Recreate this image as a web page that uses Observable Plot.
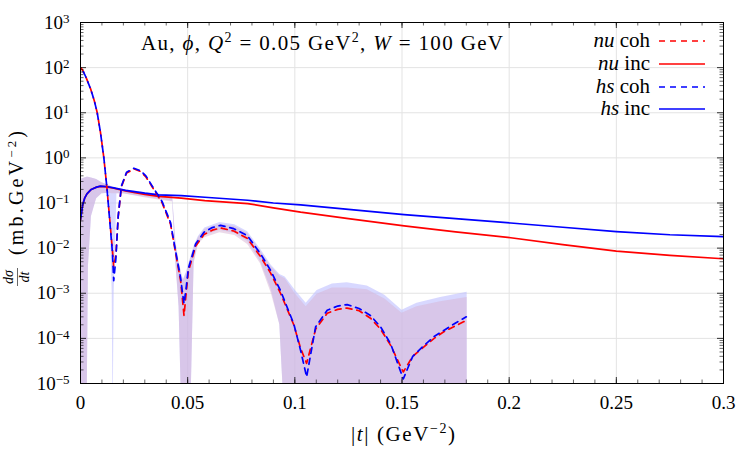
<!DOCTYPE html>
<html><head><meta charset="utf-8">
<script src="https://cdn.jsdelivr.net/npm/d3@7"></script>
<script src="https://cdn.jsdelivr.net/npm/@observablehq/plot@0.6"></script>
<style>body{margin:0;background:#fff}#chart{width:750px;height:450px}
#chart svg text{font-family:'Liberation Serif',serif}</style>
</head><body><div id="chart"></div>
<script>
// ---- coherent cross sections (shared |t| grid) ----
const tCoh = [0, 0.001, 0.0025, 0.0047, 0.0065, 0.0078, 0.0093, 0.0109, 0.0124, 0.0137,
  0.0149, 0.0155, 0.0165, 0.0176, 0.0191, 0.0215, 0.0249, 0.028, 0.0305, 0.0334,
  0.0381, 0.042, 0.0443, 0.0467, 0.0475, 0.0483, 0.0492, 0.0503, 0.0537, 0.0576,
  0.0615, 0.0653, 0.0715, 0.0778, 0.084, 0.0887, 0.0933, 0.0995, 0.1027, 0.1055,
  0.1097, 0.1151, 0.12, 0.1244, 0.13, 0.1353, 0.14, 0.1447, 0.1506, 0.155,
  0.1602, 0.165, 0.1695, 0.175, 0.18];
const hsCoh = [100, 88, 62, 34, 18, 10, 3.7, 1.0, 0.2, 0.037,
  0.008, 0.0019, 0.0058, 0.052, 0.24, 0.48, 0.59, 0.52, 0.4, 0.24,
  0.107, 0.037, 0.0089, 0.0022, 0.0011, 0.00059, 0.0012, 0.0035, 0.0124, 0.0225,
  0.0285, 0.032, 0.027, 0.019, 0.0075, 0.0032, 0.00115, 0.00021, 0.000054, 0.000014,
  0.00018, 0.00042, 0.00052, 0.00056, 0.00046, 0.00032, 0.00018, 0.000076, 0.0000126, 0.00004,
  0.000069, 0.00011, 0.00015, 0.00022, 0.0003];
const nuCoh = [100, 88, 62, 34, 18, 10, 3.7, 1.0, 0.2, 0.04,
  0.009, 0.0038, 0.007, 0.05, 0.23, 0.46, 0.57, 0.5, 0.38, 0.23,
  0.1, 0.034, 0.0082, 0.0019, 0.0008, 0.00032, 0.0009, 0.003, 0.011, 0.02,
  0.025, 0.028, 0.024, 0.0165, 0.0065, 0.0028, 0.001, 0.0002, 0.00006, 0.000028,
  0.00016, 0.00036, 0.00044, 0.00047, 0.00041, 0.00028, 0.00016, 0.00007, 0.000018, 0.00004,
  0.000065, 0.0001, 0.00014, 0.00019, 0.00025];

// ---- incoherent cross sections ----
const tInc = [0, 0.001, 0.002, 0.003, 0.005, 0.0075, 0.0093, 0.012, 0.015, 0.021,
  0.03, 0.0365, 0.047, 0.058, 0.078, 0.09, 0.1027, 0.125, 0.151, 0.175,
  0.2007, 0.225, 0.25, 0.275, 0.3];
const hsInc = [0.042, 0.09, 0.13, 0.16, 0.2, 0.225, 0.236, 0.232, 0.22, 0.19,
  0.165, 0.152, 0.146, 0.134, 0.115, 0.1, 0.091, 0.072, 0.055, 0.045,
  0.036, 0.029, 0.0233, 0.0198, 0.018];
const nuInc = [0.042, 0.09, 0.13, 0.16, 0.2, 0.225, 0.234, 0.228, 0.215, 0.185,
  0.155, 0.14, 0.128, 0.113, 0.097, 0.078, 0.0625, 0.045, 0.031, 0.023,
  0.017, 0.012, 0.0086, 0.0069, 0.0058];

// ---- uncertainty bands ----
const tBand = [0, 0.002, 0.003, 0.0037, 0.0051, 0.0075, 0.01, 0.0135, 0.0148, 0.0152,
  0.0157, 0.017, 0.02, 0.03, 0.04, 0.043, 0.0445, 0.046, 0.0474, 0.048,
  0.0495, 0.0513, 0.053, 0.055, 0.058, 0.065, 0.072, 0.078, 0.084, 0.089,
  0.093, 0.0955, 0.1, 0.1053, 0.1104, 0.1175, 0.1244, 0.1338, 0.142, 0.15,
  0.157, 0.168, 0.1804];
const hsHi = [0.33, 0.36, 0.37, 0.37, 0.36, 0.33, 0.28, 0.24, 0.225, 0.22,
  0.215, 0.21, 0.2, 0.17, 0.15, 0.14, 0.014, 0.005, 0.0025, 0.002,
  0.003, 0.006, 0.011, 0.018, 0.028, 0.037, 0.033, 0.023, 0.0095, 0.0042,
  0.0026, 0.0023, 0.0012, 0.0006, 0.00115, 0.0016, 0.0017, 0.00145, 0.0009, 0.00042,
  0.0006, 0.0008, 0.00105];
const hsLo = [1e-6, 1e-6, 1e-6, 0.004, 0.05, 0.125, 0.16, 0.165, 0.001, 1e-6,
  0.001, 0.16, 0.16, 0.135, 0.115, 0.11, 0.005, 0.0005, 1e-6, 1e-6,
  1e-6, 1e-6, 0.005, 0.013, 0.019, 0.025, 0.021, 0.014, 0.005, 0.0012,
  0.0002, 1e-6, 1e-6, 1e-6, 1e-6, 1e-6, 1e-6, 1e-6, 1e-6, 1e-6,
  1e-6, 1e-6, 1e-6];
const nuHi = [0.33, 0.36, 0.37, 0.37, 0.36, 0.33, 0.28, 0.24, 0.225, 0.22,
  0.215, 0.21, 0.2, 0.165, 0.145, 0.135, 0.013, 0.0047, 0.0024, 0.0019,
  0.0028, 0.0055, 0.01, 0.017, 0.026, 0.034, 0.03, 0.021, 0.0085, 0.0038,
  0.0024, 0.0021, 0.001, 0.0005, 0.00095, 0.0013, 0.0013, 0.0012, 0.00075, 0.00036,
  0.0005, 0.00065, 0.0008];
const nuLo = [1e-6, 1e-6, 1e-6, 0.004, 0.05, 0.125, 0.16, 0.165, 0.16, 0.16,
  0.16, 0.16, 0.16, 0.13, 0.11, 0.105, 0.0045, 0.0005, 1e-6, 1e-6,
  1e-6, 1e-6, 0.0045, 0.012, 0.017, 0.022, 0.019, 0.012, 0.0045, 0.001,
  0.0002, 1e-6, 1e-6, 1e-6, 1e-6, 1e-6, 1e-6, 1e-6, 1e-6, 1e-6,
  1e-6, 1e-6, 1e-6];

// ---- axes ----
const xTicks = [0, 0.05, 0.1, 0.15, 0.2, 0.25, 0.3];
const xMinor = d3.range(0, 31).map(i => i / 100);
const yExp = [-5, -4, -3, -2, -1, 0, 1, 2, 3];
const yTicks = yExp.map(e => Math.pow(10, e));
const yMinor = [];
for (let e = -5; e < 3; e++) for (let m = 2; m <= 9; m++) yMinor.push(m * Math.pow(10, e));

const legendItems = [
  {name: "nu", kind: "coh", color: "#ff0000", dash: true},
  {name: "nu", kind: "inc", color: "#ff0000", dash: false},
  {name: "hs", kind: "coh", color: "#0000ff", dash: true},
  {name: "hs", kind: "inc", color: "#0000ff", dash: false}
];

const FONT = "'Liberation Serif', serif";
const W = 750, H = 450, mL = 80, mR = 27, mT = 22, mB = 67;
const pw = W - mL - mR, ph = H - mT - mB;

const pts = (ts, vs) => ts.map((t, i) => ({t, v: vs[i]}));
const band = (lo, hi) => tBand.map((t, i) => ({t, lo: lo[i], hi: hi[i]}));

const plot = Plot.plot({
  width: W, height: H,
  marginLeft: mL, marginRight: mR, marginTop: mT, marginBottom: mB,
  style: {fontFamily: FONT, fontSize: "19px", background: "white", color: "black"},
  x: {domain: [0, 0.3]},
  y: {type: "log", domain: [1e-5, 1e3]},
  marks: [
    Plot.ruleX(xTicks, {x: d => d, stroke: "#e3e3e3", strokeWidth: 1}),
    Plot.ruleY(yTicks, {y: d => d, stroke: "#e3e3e3", strokeWidth: 1}),
    Plot.areaY(band(hsLo, hsHi), {x: "t", y1: "lo", y2: "hi", fill: "rgb(190,190,255)", fillOpacity: 0.6, clip: true}),
    Plot.areaY(band(nuLo, nuHi), {x: "t", y1: "lo", y2: "hi", fill: "rgb(216,180,212)", fillOpacity: 0.5, clip: true}),
    Plot.line(pts(tInc, nuInc), {x: "t", y: "v", stroke: "#ff0000", strokeWidth: 1.7, clip: true}),
    Plot.line(pts(tInc, hsInc), {x: "t", y: "v", stroke: "#0000ff", strokeWidth: 1.7, clip: true}),
    Plot.line(pts(tCoh, nuCoh), {x: "t", y: "v", stroke: "#ff0000", strokeWidth: 1.7, strokeDasharray: "6,5", clip: true}),
    Plot.line(pts(tCoh, hsCoh), {x: "t", y: "v", stroke: "#0000ff", strokeWidth: 1.7, strokeDasharray: "6,5", strokeDashoffset: 6, clip: true}),
    // inward ticks
    Plot.tickY(yTicks, {y: d => d, insetRight: pw - 6, stroke: "black", strokeWidth: 0.8}),
    Plot.tickY(yTicks, {y: d => d, insetLeft: pw - 6, stroke: "black", strokeWidth: 0.8}),
    Plot.tickY(yMinor, {y: d => d, insetRight: pw - 3.5, stroke: "black", strokeWidth: 0.6}),
    Plot.tickY(yMinor, {y: d => d, insetLeft: pw - 3.5, stroke: "black", strokeWidth: 0.6}),
    Plot.tickX(xTicks, {x: d => d, insetTop: ph - 6, stroke: "black", strokeWidth: 0.8}),
    Plot.tickX(xTicks, {x: d => d, insetBottom: ph - 6, stroke: "black", strokeWidth: 0.8}),
    Plot.tickX(xMinor, {x: d => d, insetTop: ph - 3.5, stroke: "black", strokeWidth: 0.6}),
    Plot.tickX(xMinor, {x: d => d, insetBottom: ph - 3.5, stroke: "black", strokeWidth: 0.6}),
    Plot.axisX(xTicks, {anchor: "bottom", tickSize: 0, tickPadding: 12, fontSize: 19, label: null,
      tickFormat: d => String(+d.toFixed(2))}),
    Plot.axisY(yTicks, {anchor: "left", tickSize: 0, tickPadding: 11, fontSize: 19, label: null,
      tickFormat: d => "10^" + String(Math.round(Math.log10(d))).replace("-", "\u2212")}),
    Plot.frame({stroke: "black", strokeWidth: 1})
  ]
});
document.getElementById("chart").appendChild(plot);

const svg = d3.select(plot);
// superscript exponents in y tick labels
svg.selectAll('g[aria-label="y-axis tick label"] text').each(function () {
  const s = d3.select(this);
  const parts = s.text().split("^");
  s.text(null);
  s.append("tspan").text(parts[0]);
  s.append("tspan").attr("dy", "-0.45em").attr("font-size", "13px").text(parts[1]);
});

function rich(parent, x, y, parts, {size = 21, anchor = "start", supSize = 14, rise = 8, length = null} = {}) {
  const t = parent.append("text").attr("x", x).attr("y", y)
    .attr("font-size", size).attr("text-anchor", anchor)
    .attr("fill", "black").style("white-space", "pre");
  if (length) t.attr("textLength", length).attr("lengthAdjust", "spacing");
  let up = false;
  parts.forEach(p => {
    const ts = t.append("tspan").text(p.t);
    if (p.i) ts.attr("font-style", "italic");
    if (p.sup) { ts.attr("dy", -rise).attr("font-size", supSize); up = true; }
    else if (up) { ts.attr("dy", rise); up = false; }
  });
  return t;
}

// title
rich(svg, 141, 50, [
  {t: "Au, "}, {t: "\u03D5", i: 1}, {t: ", "}, {t: "Q", i: 1}, {t: "2", sup: 1},
  {t: " = 0.05 GeV"}, {t: "2", sup: 1}, {t: ", "}, {t: "W", i: 1}, {t: " = 100 GeV"}
], {length: 362});

// legend
const rows = [41, 64, 87, 109];
legendItems.forEach((it, i) => {
  const y = rows[i];
  rich(svg, 650, y + 6, [{t: it.name, i: 1}, {t: " " + it.kind}], {anchor: "end"});
  svg.append("line").attr("x1", 659).attr("x2", 705).attr("y1", y).attr("y2", y)
    .attr("stroke", it.color).attr("stroke-width", 1.7)
    .attr("stroke-dasharray", it.dash ? "6,5" : null);
});

// x label
rich(svg, 351, 441, [{t: "|"}, {t: "t", i: 1}, {t: "| (GeV"}, {t: "\u22122", sup: 1}, {t: ")"}], {length: 104});

// y label (rotated)
const gy = svg.append("g").attr("transform", "translate(17,200) rotate(-90)");
gy.append("text").attr("x", -77).attr("y", -4).attr("text-anchor", "middle")
  .attr("font-size", 14).attr("font-style", "italic").text("d\u03C3");
gy.append("text").attr("x", -77).attr("y", 12).attr("text-anchor", "middle")
  .attr("font-size", 14).attr("font-style", "italic").text("dt");
gy.append("line").attr("x1", -86).attr("x2", -68).attr("y1", 0.5).attr("y2", 0.5)
  .attr("stroke", "black").attr("stroke-width", 0.6);
rich(gy, -55, 6, [{t: "(mb.GeV"}, {t: "\u22122", sup: 1}, {t: ")"}], {size: 20, supSize: 13, rise: 7, length: 124});
</script>
</body></html>
